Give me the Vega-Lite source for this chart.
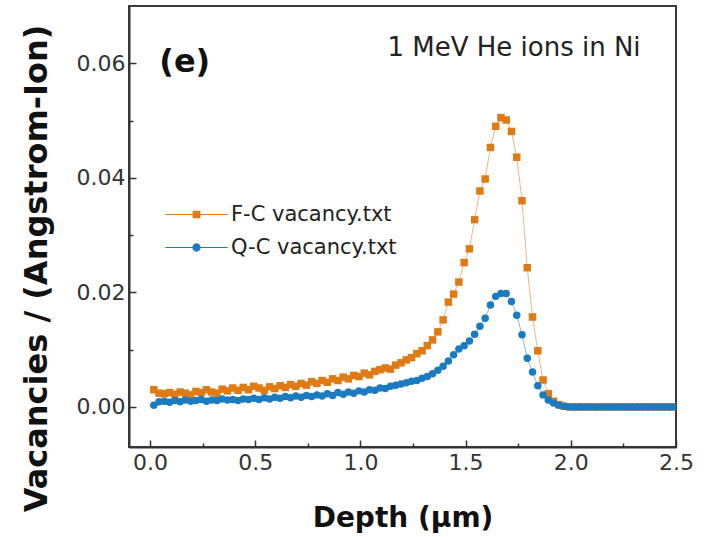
{
  "$schema": "https://vega.github.io/schema/vega-lite/v6.json",
  "width": 547,
  "height": 441,
  "autosize": {"type": "none"},
  "padding": {"left": 129, "top": 6, "right": 28, "bottom": 90},
  "background": "white",
  "config": {"view": {"stroke": "#3a3a3a", "strokeWidth": 2}, "font": "DejaVu Sans"},
  "data": {"values": [
    {"series":"F-C vacancy.txt","depth":0.018,"vac":0.0030},
    {"series":"F-C vacancy.txt","depth":0.043,"vac":0.0024},
    {"series":"F-C vacancy.txt","depth":0.068,"vac":0.0023},
    {"series":"F-C vacancy.txt","depth":0.093,"vac":0.0025},
    {"series":"F-C vacancy.txt","depth":0.118,"vac":0.0022},
    {"series":"F-C vacancy.txt","depth":0.143,"vac":0.0026},
    {"series":"F-C vacancy.txt","depth":0.168,"vac":0.0024},
    {"series":"F-C vacancy.txt","depth":0.193,"vac":0.0021},
    {"series":"F-C vacancy.txt","depth":0.218,"vac":0.0027},
    {"series":"F-C vacancy.txt","depth":0.243,"vac":0.0025},
    {"series":"F-C vacancy.txt","depth":0.268,"vac":0.0030},
    {"series":"F-C vacancy.txt","depth":0.293,"vac":0.0026},
    {"series":"F-C vacancy.txt","depth":0.318,"vac":0.0024},
    {"series":"F-C vacancy.txt","depth":0.343,"vac":0.0031},
    {"series":"F-C vacancy.txt","depth":0.368,"vac":0.0028},
    {"series":"F-C vacancy.txt","depth":0.393,"vac":0.0033},
    {"series":"F-C vacancy.txt","depth":0.418,"vac":0.0029},
    {"series":"F-C vacancy.txt","depth":0.443,"vac":0.0034},
    {"series":"F-C vacancy.txt","depth":0.468,"vac":0.0030},
    {"series":"F-C vacancy.txt","depth":0.493,"vac":0.0036},
    {"series":"F-C vacancy.txt","depth":0.518,"vac":0.0033},
    {"series":"F-C vacancy.txt","depth":0.543,"vac":0.0029},
    {"series":"F-C vacancy.txt","depth":0.568,"vac":0.0035},
    {"series":"F-C vacancy.txt","depth":0.593,"vac":0.0032},
    {"series":"F-C vacancy.txt","depth":0.618,"vac":0.0037},
    {"series":"F-C vacancy.txt","depth":0.643,"vac":0.0034},
    {"series":"F-C vacancy.txt","depth":0.668,"vac":0.0039},
    {"series":"F-C vacancy.txt","depth":0.693,"vac":0.0036},
    {"series":"F-C vacancy.txt","depth":0.718,"vac":0.0041},
    {"series":"F-C vacancy.txt","depth":0.743,"vac":0.0038},
    {"series":"F-C vacancy.txt","depth":0.768,"vac":0.0044},
    {"series":"F-C vacancy.txt","depth":0.793,"vac":0.0041},
    {"series":"F-C vacancy.txt","depth":0.818,"vac":0.0046},
    {"series":"F-C vacancy.txt","depth":0.843,"vac":0.0043},
    {"series":"F-C vacancy.txt","depth":0.868,"vac":0.0049},
    {"series":"F-C vacancy.txt","depth":0.893,"vac":0.0046},
    {"series":"F-C vacancy.txt","depth":0.918,"vac":0.0052},
    {"series":"F-C vacancy.txt","depth":0.943,"vac":0.0049},
    {"series":"F-C vacancy.txt","depth":0.968,"vac":0.0055},
    {"series":"F-C vacancy.txt","depth":0.993,"vac":0.0053},
    {"series":"F-C vacancy.txt","depth":1.018,"vac":0.0059},
    {"series":"F-C vacancy.txt","depth":1.043,"vac":0.0056},
    {"series":"F-C vacancy.txt","depth":1.068,"vac":0.0062},
    {"series":"F-C vacancy.txt","depth":1.093,"vac":0.0065},
    {"series":"F-C vacancy.txt","depth":1.118,"vac":0.0068},
    {"series":"F-C vacancy.txt","depth":1.143,"vac":0.0066},
    {"series":"F-C vacancy.txt","depth":1.168,"vac":0.0073},
    {"series":"F-C vacancy.txt","depth":1.193,"vac":0.0077},
    {"series":"F-C vacancy.txt","depth":1.218,"vac":0.0082},
    {"series":"F-C vacancy.txt","depth":1.243,"vac":0.0086},
    {"series":"F-C vacancy.txt","depth":1.268,"vac":0.0093},
    {"series":"F-C vacancy.txt","depth":1.293,"vac":0.0098},
    {"series":"F-C vacancy.txt","depth":1.318,"vac":0.0107},
    {"series":"F-C vacancy.txt","depth":1.343,"vac":0.0117},
    {"series":"F-C vacancy.txt","depth":1.368,"vac":0.0131},
    {"series":"F-C vacancy.txt","depth":1.393,"vac":0.0152},
    {"series":"F-C vacancy.txt","depth":1.418,"vac":0.0183},
    {"series":"F-C vacancy.txt","depth":1.443,"vac":0.0197},
    {"series":"F-C vacancy.txt","depth":1.468,"vac":0.0218},
    {"series":"F-C vacancy.txt","depth":1.493,"vac":0.0252},
    {"series":"F-C vacancy.txt","depth":1.518,"vac":0.0276},
    {"series":"F-C vacancy.txt","depth":1.543,"vac":0.0327},
    {"series":"F-C vacancy.txt","depth":1.568,"vac":0.0377},
    {"series":"F-C vacancy.txt","depth":1.593,"vac":0.0398},
    {"series":"F-C vacancy.txt","depth":1.618,"vac":0.0453},
    {"series":"F-C vacancy.txt","depth":1.643,"vac":0.0490},
    {"series":"F-C vacancy.txt","depth":1.668,"vac":0.0505},
    {"series":"F-C vacancy.txt","depth":1.693,"vac":0.0501},
    {"series":"F-C vacancy.txt","depth":1.718,"vac":0.0481},
    {"series":"F-C vacancy.txt","depth":1.743,"vac":0.0436},
    {"series":"F-C vacancy.txt","depth":1.768,"vac":0.0360},
    {"series":"F-C vacancy.txt","depth":1.793,"vac":0.0243},
    {"series":"F-C vacancy.txt","depth":1.818,"vac":0.0157},
    {"series":"F-C vacancy.txt","depth":1.843,"vac":0.0098},
    {"series":"F-C vacancy.txt","depth":1.868,"vac":0.0047},
    {"series":"F-C vacancy.txt","depth":1.893,"vac":0.0023},
    {"series":"F-C vacancy.txt","depth":1.918,"vac":0.0010},
    {"series":"F-C vacancy.txt","depth":1.943,"vac":0.0004},
    {"series":"F-C vacancy.txt","depth":1.968,"vac":0.0001},
    {"series":"F-C vacancy.txt","depth":1.993,"vac":0},
    {"series":"F-C vacancy.txt","depth":2.018,"vac":0},
    {"series":"F-C vacancy.txt","depth":2.043,"vac":0},
    {"series":"F-C vacancy.txt","depth":2.068,"vac":0},
    {"series":"F-C vacancy.txt","depth":2.093,"vac":0},
    {"series":"F-C vacancy.txt","depth":2.118,"vac":0},
    {"series":"F-C vacancy.txt","depth":2.143,"vac":0},
    {"series":"F-C vacancy.txt","depth":2.168,"vac":0},
    {"series":"F-C vacancy.txt","depth":2.193,"vac":0},
    {"series":"F-C vacancy.txt","depth":2.218,"vac":0},
    {"series":"F-C vacancy.txt","depth":2.243,"vac":0},
    {"series":"F-C vacancy.txt","depth":2.268,"vac":0},
    {"series":"F-C vacancy.txt","depth":2.293,"vac":0},
    {"series":"F-C vacancy.txt","depth":2.318,"vac":0},
    {"series":"F-C vacancy.txt","depth":2.343,"vac":0},
    {"series":"F-C vacancy.txt","depth":2.368,"vac":0},
    {"series":"F-C vacancy.txt","depth":2.393,"vac":0},
    {"series":"F-C vacancy.txt","depth":2.418,"vac":0},
    {"series":"F-C vacancy.txt","depth":2.443,"vac":0},
    {"series":"F-C vacancy.txt","depth":2.468,"vac":0},
    {"series":"F-C vacancy.txt","depth":2.493,"vac":0},
    {"series":"Q-C vacancy.txt","depth":0.018,"vac":0.0003},
    {"series":"Q-C vacancy.txt","depth":0.043,"vac":0.0009},
    {"series":"Q-C vacancy.txt","depth":0.068,"vac":0.0010},
    {"series":"Q-C vacancy.txt","depth":0.093,"vac":0.0008},
    {"series":"Q-C vacancy.txt","depth":0.118,"vac":0.0011},
    {"series":"Q-C vacancy.txt","depth":0.143,"vac":0.0009},
    {"series":"Q-C vacancy.txt","depth":0.168,"vac":0.0012},
    {"series":"Q-C vacancy.txt","depth":0.193,"vac":0.0010},
    {"series":"Q-C vacancy.txt","depth":0.218,"vac":0.0011},
    {"series":"Q-C vacancy.txt","depth":0.243,"vac":0.0013},
    {"series":"Q-C vacancy.txt","depth":0.268,"vac":0.0010},
    {"series":"Q-C vacancy.txt","depth":0.293,"vac":0.0012},
    {"series":"Q-C vacancy.txt","depth":0.318,"vac":0.0011},
    {"series":"Q-C vacancy.txt","depth":0.343,"vac":0.0014},
    {"series":"Q-C vacancy.txt","depth":0.368,"vac":0.0012},
    {"series":"Q-C vacancy.txt","depth":0.393,"vac":0.0013},
    {"series":"Q-C vacancy.txt","depth":0.418,"vac":0.0011},
    {"series":"Q-C vacancy.txt","depth":0.443,"vac":0.0014},
    {"series":"Q-C vacancy.txt","depth":0.468,"vac":0.0013},
    {"series":"Q-C vacancy.txt","depth":0.493,"vac":0.0015},
    {"series":"Q-C vacancy.txt","depth":0.518,"vac":0.0013},
    {"series":"Q-C vacancy.txt","depth":0.543,"vac":0.0016},
    {"series":"Q-C vacancy.txt","depth":0.568,"vac":0.0014},
    {"series":"Q-C vacancy.txt","depth":0.593,"vac":0.0017},
    {"series":"Q-C vacancy.txt","depth":0.618,"vac":0.0015},
    {"series":"Q-C vacancy.txt","depth":0.643,"vac":0.0018},
    {"series":"Q-C vacancy.txt","depth":0.668,"vac":0.0016},
    {"series":"Q-C vacancy.txt","depth":0.693,"vac":0.0019},
    {"series":"Q-C vacancy.txt","depth":0.718,"vac":0.0017},
    {"series":"Q-C vacancy.txt","depth":0.743,"vac":0.0020},
    {"series":"Q-C vacancy.txt","depth":0.768,"vac":0.0018},
    {"series":"Q-C vacancy.txt","depth":0.793,"vac":0.0021},
    {"series":"Q-C vacancy.txt","depth":0.818,"vac":0.0019},
    {"series":"Q-C vacancy.txt","depth":0.843,"vac":0.0023},
    {"series":"Q-C vacancy.txt","depth":0.868,"vac":0.0020},
    {"series":"Q-C vacancy.txt","depth":0.893,"vac":0.0025},
    {"series":"Q-C vacancy.txt","depth":0.918,"vac":0.0022},
    {"series":"Q-C vacancy.txt","depth":0.943,"vac":0.0026},
    {"series":"Q-C vacancy.txt","depth":0.968,"vac":0.0024},
    {"series":"Q-C vacancy.txt","depth":0.993,"vac":0.0028},
    {"series":"Q-C vacancy.txt","depth":1.018,"vac":0.0026},
    {"series":"Q-C vacancy.txt","depth":1.043,"vac":0.0030},
    {"series":"Q-C vacancy.txt","depth":1.068,"vac":0.0029},
    {"series":"Q-C vacancy.txt","depth":1.093,"vac":0.0033},
    {"series":"Q-C vacancy.txt","depth":1.118,"vac":0.0032},
    {"series":"Q-C vacancy.txt","depth":1.143,"vac":0.0036},
    {"series":"Q-C vacancy.txt","depth":1.168,"vac":0.0038},
    {"series":"Q-C vacancy.txt","depth":1.193,"vac":0.0040},
    {"series":"Q-C vacancy.txt","depth":1.218,"vac":0.0042},
    {"series":"Q-C vacancy.txt","depth":1.243,"vac":0.0045},
    {"series":"Q-C vacancy.txt","depth":1.268,"vac":0.0046},
    {"series":"Q-C vacancy.txt","depth":1.293,"vac":0.0050},
    {"series":"Q-C vacancy.txt","depth":1.318,"vac":0.0053},
    {"series":"Q-C vacancy.txt","depth":1.343,"vac":0.0058},
    {"series":"Q-C vacancy.txt","depth":1.368,"vac":0.0064},
    {"series":"Q-C vacancy.txt","depth":1.393,"vac":0.0071},
    {"series":"Q-C vacancy.txt","depth":1.418,"vac":0.0080},
    {"series":"Q-C vacancy.txt","depth":1.443,"vac":0.0091},
    {"series":"Q-C vacancy.txt","depth":1.468,"vac":0.0101},
    {"series":"Q-C vacancy.txt","depth":1.493,"vac":0.0107},
    {"series":"Q-C vacancy.txt","depth":1.518,"vac":0.0115},
    {"series":"Q-C vacancy.txt","depth":1.543,"vac":0.0127},
    {"series":"Q-C vacancy.txt","depth":1.568,"vac":0.0141},
    {"series":"Q-C vacancy.txt","depth":1.593,"vac":0.0155},
    {"series":"Q-C vacancy.txt","depth":1.618,"vac":0.0178},
    {"series":"Q-C vacancy.txt","depth":1.643,"vac":0.0193},
    {"series":"Q-C vacancy.txt","depth":1.668,"vac":0.0198},
    {"series":"Q-C vacancy.txt","depth":1.693,"vac":0.0198},
    {"series":"Q-C vacancy.txt","depth":1.718,"vac":0.0184},
    {"series":"Q-C vacancy.txt","depth":1.743,"vac":0.0160},
    {"series":"Q-C vacancy.txt","depth":1.768,"vac":0.0126},
    {"series":"Q-C vacancy.txt","depth":1.793,"vac":0.0085},
    {"series":"Q-C vacancy.txt","depth":1.818,"vac":0.0061},
    {"series":"Q-C vacancy.txt","depth":1.843,"vac":0.0037},
    {"series":"Q-C vacancy.txt","depth":1.868,"vac":0.0021},
    {"series":"Q-C vacancy.txt","depth":1.893,"vac":0.0012},
    {"series":"Q-C vacancy.txt","depth":1.918,"vac":0.0007},
    {"series":"Q-C vacancy.txt","depth":1.943,"vac":0.0003},
    {"series":"Q-C vacancy.txt","depth":1.968,"vac":0.0001},
    {"series":"Q-C vacancy.txt","depth":1.993,"vac":0},
    {"series":"Q-C vacancy.txt","depth":2.018,"vac":0},
    {"series":"Q-C vacancy.txt","depth":2.043,"vac":0},
    {"series":"Q-C vacancy.txt","depth":2.068,"vac":0},
    {"series":"Q-C vacancy.txt","depth":2.093,"vac":0},
    {"series":"Q-C vacancy.txt","depth":2.118,"vac":0},
    {"series":"Q-C vacancy.txt","depth":2.143,"vac":0},
    {"series":"Q-C vacancy.txt","depth":2.168,"vac":0},
    {"series":"Q-C vacancy.txt","depth":2.193,"vac":0},
    {"series":"Q-C vacancy.txt","depth":2.218,"vac":0},
    {"series":"Q-C vacancy.txt","depth":2.243,"vac":0},
    {"series":"Q-C vacancy.txt","depth":2.268,"vac":0},
    {"series":"Q-C vacancy.txt","depth":2.293,"vac":0},
    {"series":"Q-C vacancy.txt","depth":2.318,"vac":0},
    {"series":"Q-C vacancy.txt","depth":2.343,"vac":0},
    {"series":"Q-C vacancy.txt","depth":2.368,"vac":0},
    {"series":"Q-C vacancy.txt","depth":2.393,"vac":0},
    {"series":"Q-C vacancy.txt","depth":2.418,"vac":0},
    {"series":"Q-C vacancy.txt","depth":2.443,"vac":0},
    {"series":"Q-C vacancy.txt","depth":2.468,"vac":0},
    {"series":"Q-C vacancy.txt","depth":2.493,"vac":0}
  ]},
  "resolve": {"axis": {"x": "independent", "y": "independent"}},
  "layer": [
    {
      "mark": {"type": "line", "strokeWidth": 1, "opacity": 0.55, "clip": true},
      "encoding": {
        "x": {"field": "depth", "type": "quantitative",
          "scale": {"domain": [-0.1, 2.5], "nice": false, "zero": false},
          "axis": {"orient": "bottom", "values": [0, 0.5, 1, 1.5, 2, 2.5], "format": ".1f",
            "tickSize": -7, "tickWidth": 1.5, "tickColor": "#333", "domainColor": "#333", "domainWidth": 2,
            "labelFont": "DejaVu Sans", "labelFontSize": 22, "labelColor": "#333", "labelPadding": 12,
            "labelFlush": false, "labelOverlap": false, "grid": false,
            "title": "Depth (μm)", "titleFont": "DejaVu Sans", "titleFontWeight": "bold", "titleFontSize": 28,
            "titleColor": "#111", "titleY": 79, "titleBaseline": "alphabetic"}},
        "y": {"field": "vac", "type": "quantitative",
          "scale": {"domain": [-0.007, 0.07], "nice": false, "zero": false},
          "axis": {"orient": "left", "values": [0, 0.02, 0.04, 0.06], "format": ".2f",
            "tickSize": -7, "tickWidth": 1.5, "tickColor": "#333", "domainColor": "#333", "domainWidth": 2,
            "labelFont": "DejaVu Sans", "labelFontSize": 22, "labelColor": "#333", "labelPadding": 11,
            "labelFlush": false, "labelOverlap": false, "grid": false,
            "title": "Vacancies / (Angstrom-Ion)", "titleFont": "DejaVu Sans", "titleFontWeight": "bold",
            "titleFontSize": 32, "titleColor": "#111", "titleAngle": -90, "titleX": -93, "titleY": 262,
            "titleAlign": "center", "titleBaseline": "middle"}},
        "detail": {"field": "series", "type": "nominal"},
        "color": {"condition": {"test": "datum.series === 'F-C vacancy.txt'", "value": "#e07a14"}, "value": "#1b7bc0"}
      }
    },
    {
      "mark": {"type": "point", "filled": true, "opacity": 1, "clip": true, "size": 56},
      "encoding": {
        "x": {"field": "depth", "type": "quantitative", "axis": null},
        "y": {"field": "vac", "type": "quantitative", "axis": null},
        "color": {"condition": {"test": "datum.series === 'F-C vacancy.txt'", "value": "#e07a14"}, "value": "#1b7bc0"},
        "shape": {"condition": {"test": "datum.series === 'F-C vacancy.txt'", "value": "square"}, "value": "circle"}
      }
    },
    {
      "data": {"values": [{"series": "F-C vacancy.txt"}, {"series": "Q-C vacancy.txt"}]},
      "mark": {"type": "point", "filled": true, "opacity": 1, "clip": true},
      "encoding": {
        "x": {"datum": -5, "type": "quantitative", "axis": null},
        "y": {"datum": -5, "type": "quantitative", "axis": null},
        "color": {"field": "series", "type": "nominal",
          "scale": {"domain": ["F-C vacancy.txt", "Q-C vacancy.txt"], "range": ["#e07a14", "#1b7bc0"]},
          "legend": {"orient": "none", "legendX": 57, "legendY": 198, "title": null, "padding": 0,
            "symbolSize": 256, "symbolStrokeWidth": 0, "symbolOpacity": 1, "labelFont": "DejaVu Sans", "labelFontSize": 21,
            "labelColor": "#222", "labelOffset": 24, "rowPadding": 11, "labelLimit": 400}},
        "shape": {"field": "series", "type": "nominal",
          "scale": {"domain": ["F-C vacancy.txt", "Q-C vacancy.txt"],
            "range": ["M-3.9,-0.06H3.9V0.06H-3.9Z M-0.48,-0.48H0.48V0.48H-0.48Z", "M-3.9,-0.06H3.9V0.06H-3.9Z M-0.52,0A0.52,0.52,0,1,1,0.52,0A0.52,0.52,0,1,1,-0.52,0Z"]}}
      }
    },
    {
      "data": {"values": [{}]},
      "mark": {"type": "point", "opacity": 0},
      "encoding": {
        "x": {"datum": 0, "type": "quantitative",
          "axis": {"orient": "bottom", "values": [0.25, 0.75, 1.25, 1.75, 2.25], "labels": false, "domain": false,
            "tickSize": -4, "tickWidth": 1.5, "tickColor": "#333", "grid": false, "title": null}},
        "y": {"datum": 0, "type": "quantitative",
          "axis": {"orient": "left", "values": [0.01, 0.03, 0.05], "labels": false, "domain": false,
            "tickSize": -4, "tickWidth": 1.5, "tickColor": "#333", "grid": false, "title": null}}
      }
    },
    {
      "data": {"values": [{}]},
      "mark": {"type": "text", "text": "(e)", "font": "DejaVu Sans", "fontWeight": "bold", "fontSize": 32,
        "color": "#111", "align": "center", "baseline": "middle"},
      "encoding": {
        "x": {"datum": 0.165, "type": "quantitative", "axis": null},
        "y": {"datum": 0.0603, "type": "quantitative", "axis": null}
      }
    },
    {
      "data": {"values": [{}]},
      "mark": {"type": "text", "text": "1 MeV He ions in Ni", "font": "DejaVu Sans", "fontSize": 26,
        "color": "#222", "align": "center", "baseline": "middle"},
      "encoding": {
        "x": {"datum": 1.73, "type": "quantitative", "axis": null},
        "y": {"datum": 0.0626, "type": "quantitative", "axis": null}
      }
    }
  ]
}
